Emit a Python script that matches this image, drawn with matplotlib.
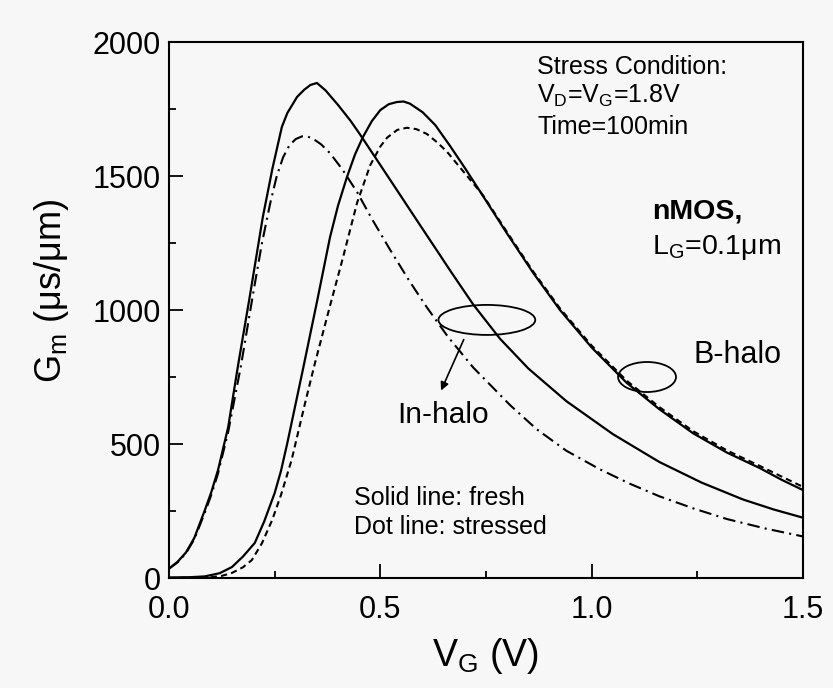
import numpy as np
import matplotlib
matplotlib.use("Agg")
import matplotlib.pyplot as plt
from matplotlib.patches import Ellipse
from matplotlib.ticker import MultipleLocator

plt.rcParams['font.family'] = ['Liberation Sans', 'DejaVu Sans']
plt.rcParams['mathtext.fontset'] = 'custom'
plt.rcParams['mathtext.rm'] = 'Liberation Sans'
plt.rcParams['mathtext.default'] = 'regular'

# In-halo, fresh (solid)
vg_in_fresh = [0.0, 0.02, 0.04, 0.06, 0.085, 0.10, 0.116, 0.14, 0.163, 0.19, 0.222, 0.245,
               0.267, 0.28, 0.303, 0.32, 0.335, 0.35, 0.37, 0.40, 0.43, 0.452, 0.50, 0.539,
               0.58, 0.617, 0.67, 0.72, 0.783, 0.85, 0.94, 1.05, 1.16, 1.26, 1.358, 1.43, 1.5]
gm_in_fresh = [35, 60, 95, 150, 254, 320, 403, 563, 790, 1040, 1347, 1530,
               1683, 1735, 1795, 1822, 1840, 1847, 1820, 1765, 1705, 1655, 1541, 1448,
               1350, 1262, 1136, 1020, 893, 782, 660, 537, 433, 356, 293, 256, 225]

# In-halo, stressed (dash-dot)
vg_in_stress = [0.0, 0.02, 0.04, 0.06, 0.085, 0.10, 0.116, 0.14, 0.17, 0.2, 0.22, 0.239,
                0.255, 0.27, 0.285, 0.30, 0.315, 0.326, 0.34, 0.36, 0.381, 0.41, 0.445,
                0.48, 0.523, 0.57, 0.61, 0.66, 0.72, 0.807, 0.87, 0.94, 1.02, 1.09, 1.16,
                1.24, 1.32, 1.41, 1.5]
gm_in_stress = [35, 58, 92, 145, 245, 310, 390, 545, 790, 1070, 1250, 1395,
                1500, 1570, 1615, 1638, 1648, 1648, 1640, 1618, 1585, 1525, 1440,
                1340, 1225, 1105, 1010, 900, 785, 645, 555, 475, 405, 352, 305,
                260, 220, 185, 155]

# B-halo, fresh (solid)
vg_b_fresh = [0.0, 0.05, 0.085, 0.12, 0.149, 0.175, 0.203, 0.225, 0.25, 0.265, 0.28, 0.318,
              0.35, 0.381, 0.40, 0.421, 0.44, 0.459, 0.48, 0.5, 0.52, 0.539, 0.555, 0.57,
              0.6, 0.63, 0.665, 0.70, 0.743, 0.80, 0.861, 0.925, 1.0, 1.083, 1.16, 1.24,
              1.32, 1.398, 1.45, 1.5]
gm_b_fresh = [2, 3, 6, 18, 41, 80, 131, 210, 317, 400, 504, 787,
              1030, 1272, 1390, 1496, 1580, 1646, 1705, 1746, 1768, 1776, 1778, 1770,
              1738, 1690, 1612, 1530, 1425, 1285, 1140, 1000, 860, 728, 630, 540,
              468, 410, 366, 328]

# B-halo, stressed (dashed)
vg_b_stress = [0.0, 0.1, 0.125, 0.149, 0.175, 0.196, 0.22, 0.244, 0.265, 0.29, 0.322, 0.345,
               0.38, 0.412, 0.445, 0.476, 0.50, 0.516, 0.54, 0.563, 0.585, 0.61, 0.635,
               0.658, 0.68, 0.70, 0.743, 0.80, 0.861, 0.925, 1.0, 1.083, 1.16, 1.24,
               1.32, 1.398, 1.45, 1.5]
gm_b_stress = [0, 3, 8, 19, 40, 67, 130, 216, 310, 440, 653, 800,
               1010, 1198, 1400, 1540, 1610, 1643, 1672, 1680, 1675, 1657, 1625,
               1590, 1548, 1510, 1428, 1290, 1145, 1006, 867, 736, 638, 548,
               476, 418, 378, 340]

bg = '#f7f7f7'
fig = plt.figure(figsize=(8.33, 6.88), dpi=100, facecolor=bg)
ax = fig.add_axes([169 / 833, 1 - 578 / 688, 634 / 833, 536 / 688])
ax.set_facecolor(bg)

ax.plot(vg_in_fresh, gm_in_fresh, color='black', lw=1.6)
ax.plot(vg_in_stress, gm_in_stress, color='black', lw=1.5, dashes=(6, 2.5, 1, 2.5))
ax.plot(vg_b_fresh, gm_b_fresh, color='black', lw=1.6)
ax.plot(vg_b_stress, gm_b_stress, color='black', lw=1.5, dashes=(3, 2))

ax.set_xlim(0, 1.5)
ax.set_ylim(0, 2000)
ax.xaxis.set_major_locator(MultipleLocator(0.5))
ax.xaxis.set_minor_locator(MultipleLocator(0.25))
ax.yaxis.set_major_locator(MultipleLocator(500))
ax.yaxis.set_minor_locator(MultipleLocator(250))
ax.tick_params(which='both', direction='in', top=False, right=False, labelsize=22, width=1.3)
ax.tick_params(which='major', length=10)
ax.tick_params(axis='x', which='major', pad=12)
ax.tick_params(axis='y', which='major', pad=6)
ax.tick_params(which='minor', length=5)
ax.xaxis.set_major_formatter(plt.FormatStrFormatter('%.1f'))
for s in ax.spines.values():
    s.set_linewidth(1.5)

ax.set_xlabel('V$_G$ (V)', fontsize=27, labelpad=8)
ax.set_ylabel('G$_m$ (μs/μm)', fontsize=26)
ax.yaxis.set_label_coords(-0.155, 0.535)

# Annotations
ax.text(0.871, 1907, 'Stress Condition:', fontsize=18, va='center')
ax.text(0.871, 1799, 'V$_D$=V$_G$=1.8V', fontsize=18, va='center')
ax.text(0.871, 1683, 'Time=100min', fontsize=18, va='center')
ax.text(1.143, 1366, 'nMOS,', fontsize=20.5, fontweight='bold', va='center')
ax.text(1.143, 1235, 'L$_G$=0.1μm', fontsize=20.5, va='center')
ax.text(1.24, 832, 'B-halo', fontsize=22, va='center')
ax.text(0.539, 608, 'In-halo', fontsize=21.5, va='center')
ax.text(0.438, 298, 'Solid line: fresh', fontsize=18, va='center')
ax.text(0.438, 190, 'Dot line: stressed', fontsize=18, va='center')

ax.add_patch(Ellipse((0.752, 963), 0.229, 112, fill=False, color='black', lw=1.3))
ax.add_patch(Ellipse((1.131, 750), 0.137, 112, fill=False, color='black', lw=1.3))
ax.annotate('', xy=(0.641, 690), xytext=(0.70, 899),
            arrowprops=dict(arrowstyle='-|>', color='black', lw=1.2, mutation_scale=12))

fig.savefig('out.png', dpi=100, facecolor=bg)
